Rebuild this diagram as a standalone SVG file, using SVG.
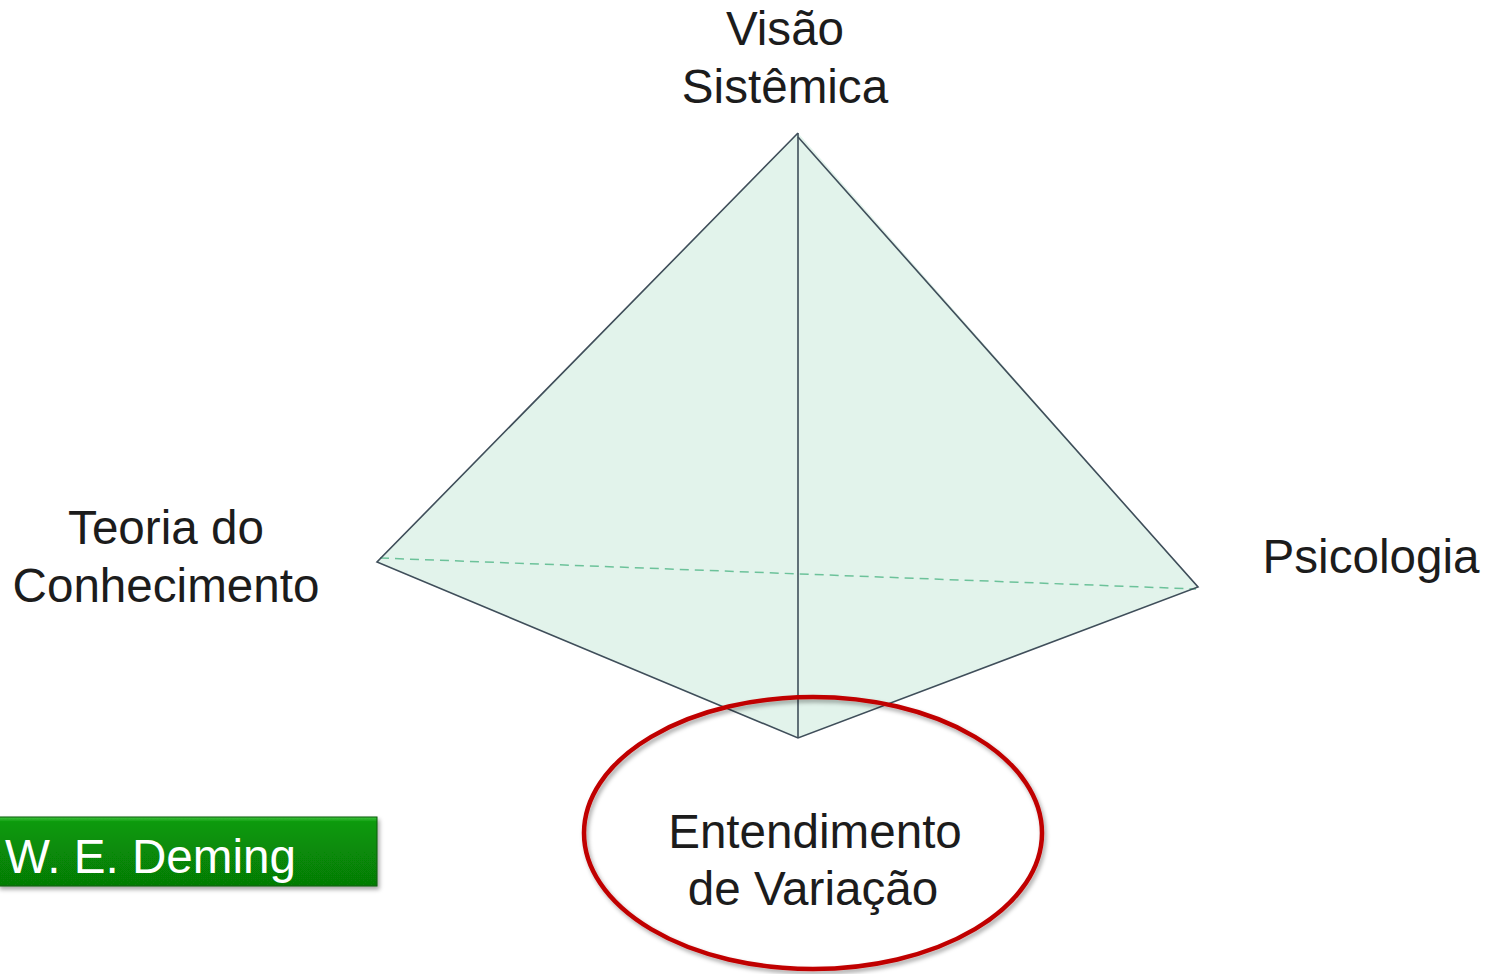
<svg xmlns="http://www.w3.org/2000/svg" width="1491" height="974" viewBox="0 0 1491 974">
<style>
.t{font-family:"Liberation Sans",Arial,sans-serif;font-size:47.6px;fill:#1c1c1c;text-anchor:middle}
.edge{stroke:#3F4E5A;stroke-width:1.6;fill:none}
</style>
<defs>
<linearGradient id="g" x1="0" y1="0" x2="0" y2="1">
<stop offset="0" stop-color="#3FC63F"/>
<stop offset="0.07" stop-color="#0C9A0C"/>
<stop offset="0.5" stop-color="#078A07"/>
<stop offset="1" stop-color="#067C06"/>
</linearGradient>
<filter id="sh" x="-10%" y="-10%" width="120%" height="130%">
<feDropShadow dx="2" dy="3" stdDeviation="2" flood-color="#000" flood-opacity="0.35"/>
</filter>
</defs>
<rect width="1491" height="974" fill="#fff"/>
<g id="pyramid">
<polygon points="798,133 1198,587 798,738 377,562" fill="#E2F3EB"/>
<g id="connectors">
<line x1="380" y1="558" x2="1196" y2="589" stroke="#6CC29A" stroke-width="1.5" stroke-dasharray="9,6"/>
<polyline class="edge" points="798,133 377,562 798,738 1198,587 798,137"/>
<line class="edge" x1="798" y1="133" x2="798" y2="738"/>
</g>
</g>
<g id="visao"><text class="t" x="785" y="45">Visão</text><text class="t" x="785" y="103">Sistêmica</text></g>
<g id="teoria"><text class="t" x="166" y="544">Teoria do</text><text class="t" x="166" y="602">Conhecimento</text></g>
<g id="psicologia"><text class="t" x="1371" y="573">Psicologia</text></g>
<g id="variacao">
<ellipse cx="813" cy="833" rx="229" ry="136" fill="none" stroke="#C00000" stroke-width="4.5" filter="url(#sh)"/>
<text class="t" x="815" y="848">Entendimento</text><text class="t" x="813" y="905">de Variação</text>
</g>
<g id="deming">
<rect x="-2" y="817" width="379" height="69" fill="url(#g)" stroke="#0A5A0A" stroke-width="1" filter="url(#sh)"/>
<text class="t" x="5" y="873" style="text-anchor:start;fill:#fff">W. E. Deming</text>
</g>
</svg>
